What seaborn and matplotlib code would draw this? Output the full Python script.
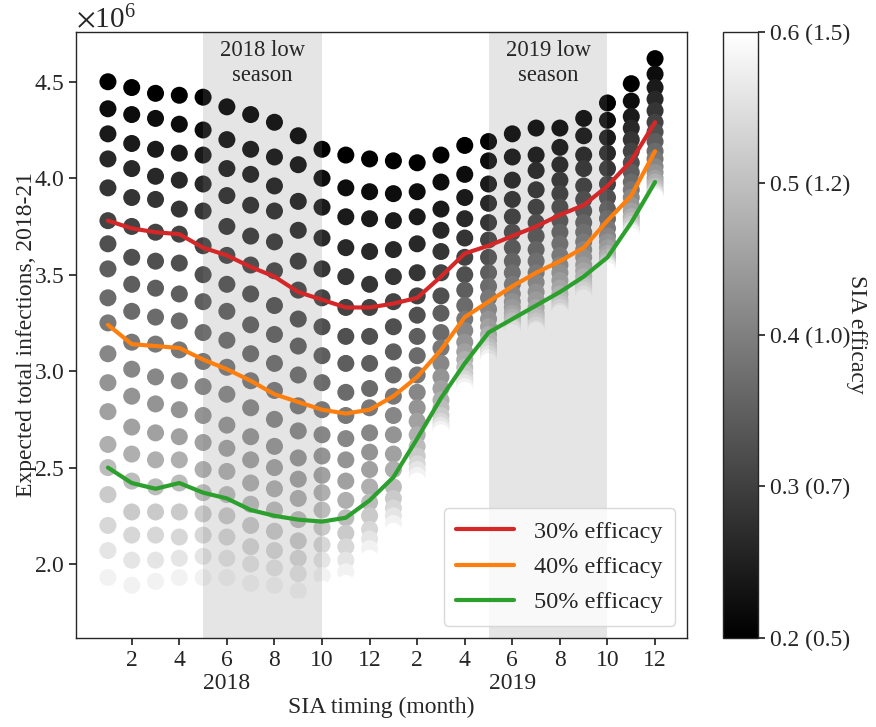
import matplotlib
matplotlib.use("Agg")
import matplotlib.pyplot as plt
import seaborn as sns
import pandas as pd
from matplotlib.colors import Normalize
from matplotlib.cm import ScalarMappable

# ---------------- data (values in millions) ----------------
months = list(range(1, 25))
tick_positions = [2, 4, 6, 8, 10, 12, 14, 16, 18, 20, 22, 24]
tick_labels = ["2", "4", "6\n2018", "8", "10", "12", "2", "4", "6\n2019", "8", "10", "12"]

efficacy_levels = [0.200, 0.221, 0.242, 0.263, 0.284, 0.305, 0.326, 0.347, 0.368, 0.389,
                   0.411, 0.432, 0.453, 0.474, 0.495, 0.516, 0.537, 0.558, 0.579, 0.600]

m01 = [4.50, 4.36, 4.23, 4.10, 3.95, 3.78, 3.66, 3.53, 3.38, 3.25, 3.09, 2.94, 2.79, 2.62, 2.50, 2.36, 2.20, 2.07, 1.93, 1.79]
m02 = [4.47, 4.33, 4.18, 4.05, 3.90, 3.75, 3.59, 3.45, 3.31, 3.15, 3.01, 2.87, 2.71, 2.57, 2.43, 2.27, 2.15, 2.02, 1.89, 1.76]
m03 = [4.44, 4.31, 4.15, 4.01, 3.89, 3.72, 3.57, 3.43, 3.28, 3.14, 2.97, 2.83, 2.68, 2.54, 2.40, 2.27, 2.15, 2.02, 1.91, 1.78]
m04 = [4.43, 4.28, 4.13, 3.99, 3.84, 3.71, 3.56, 3.40, 3.26, 3.11, 2.95, 2.80, 2.66, 2.54, 2.42, 2.27, 2.14, 2.03, 1.93, 1.82]
m05 = [4.42, 4.25, 4.12, 3.97, 3.83, 3.65, 3.50, 3.36, 3.20, 3.05, 2.92, 2.77, 2.63, 2.49, 2.37, 2.26, 2.15, 2.04, 1.93, 1.82]
m06 = [4.37, 4.20, 4.05, 3.91, 3.75, 3.60, 3.45, 3.31, 3.16, 3.02, 2.88, 2.72, 2.60, 2.48, 2.36, 2.25, 2.14, 2.03, 1.93, 1.83]
m07 = [4.33, 4.15, 4.02, 3.86, 3.70, 3.55, 3.40, 3.24, 3.09, 2.95, 2.81, 2.66, 2.54, 2.42, 2.31, 2.20, 2.09, 2.00, 1.90, 1.81]
m08 = [4.29, 4.11, 3.96, 3.83, 3.67, 3.52, 3.34, 3.19, 3.04, 2.90, 2.75, 2.61, 2.50, 2.39, 2.28, 2.17, 2.07, 1.98, 1.89, 1.80]
m09 = [4.22, 4.07, 3.88, 3.73, 3.57, 3.42, 3.27, 3.13, 2.98, 2.82, 2.69, 2.55, 2.44, 2.34, 2.23, 2.12, 2.03, 1.95, 1.86, 1.78]
m10 = [4.15, 4.00, 3.85, 3.69, 3.53, 3.38, 3.23, 3.08, 2.94, 2.80, 2.67, 2.56, 2.46, 2.37, 2.28, 2.19, 2.10, 2.02, 1.94, 1.87]
m11 = [4.12, 3.95, 3.80, 3.64, 3.49, 3.33, 3.18, 3.04, 2.89, 2.77, 2.65, 2.54, 2.43, 2.33, 2.24, 2.16, 2.09, 2.02, 1.96, 1.90]
m12 = [4.10, 3.93, 3.79, 3.62, 3.45, 3.33, 3.18, 3.04, 2.91, 2.81, 2.68, 2.58, 2.49, 2.40, 2.32, 2.25, 2.18, 2.13, 2.08, 2.03]
m13 = [4.09, 3.92, 3.78, 3.63, 3.49, 3.36, 3.23, 3.10, 2.98, 2.87, 2.77, 2.67, 2.57, 2.49, 2.40, 2.34, 2.29, 2.25, 2.21, 2.17]
m14 = [4.08, 3.93, 3.80, 3.66, 3.51, 3.39, 3.29, 3.18, 3.08, 2.98, 2.89, 2.81, 2.74, 2.67, 2.61, 2.56, 2.52, 2.49, 2.46, 2.43]
m15 = [4.12, 3.98, 3.84, 3.73, 3.62, 3.51, 3.39, 3.30, 3.20, 3.12, 3.04, 2.97, 2.91, 2.85, 2.81, 2.77, 2.74, 2.72, 2.70, 2.68]
m16 = [4.17, 4.02, 3.90, 3.79, 3.69, 3.59, 3.50, 3.42, 3.34, 3.27, 3.21, 3.15, 3.10, 3.06, 3.02, 2.99, 2.96, 2.94, 2.92, 2.90]
m17 = [4.19, 4.09, 3.97, 3.87, 3.77, 3.68, 3.59, 3.51, 3.44, 3.38, 3.32, 3.27, 3.23, 3.19, 3.16, 3.13, 3.11, 3.09, 3.07, 3.05]
m18 = [4.23, 4.11, 3.99, 3.89, 3.80, 3.72, 3.64, 3.57, 3.51, 3.45, 3.40, 3.36, 3.33, 3.30, 3.28, 3.26, 3.24, 3.23, 3.22, 3.20]
m19 = [4.26, 4.12, 4.04, 3.94, 3.85, 3.77, 3.70, 3.63, 3.57, 3.51, 3.46, 3.41, 3.37, 3.33, 3.30, 3.28, 3.26, 3.24, 3.22, 3.21]
m20 = [4.26, 4.16, 4.07, 3.99, 3.92, 3.85, 3.78, 3.72, 3.66, 3.60, 3.55, 3.51, 3.47, 3.43, 3.40, 3.37, 3.35, 3.33, 3.31, 3.30]
m21 = [4.31, 4.22, 4.12, 4.05, 3.96, 3.89, 3.83, 3.77, 3.72, 3.67, 3.63, 3.59, 3.55, 3.52, 3.49, 3.46, 3.44, 3.42, 3.40, 3.38]
m22 = [4.39, 4.30, 4.21, 4.13, 4.05, 3.97, 3.90, 3.84, 3.79, 3.74, 3.70, 3.67, 3.64, 3.61, 3.59, 3.57, 3.56, 3.55, 3.54, 3.52]
m23 = [4.49, 4.40, 4.32, 4.26, 4.20, 4.14, 4.08, 4.03, 3.98, 3.94, 3.90, 3.86, 3.83, 3.80, 3.78, 3.76, 3.74, 3.73, 3.72, 3.70]
m24 = [4.62, 4.54, 4.47, 4.41, 4.35, 4.29, 4.24, 4.19, 4.14, 4.10, 4.06, 4.03, 4.00, 3.98, 3.96, 3.94, 3.93, 3.92, 3.91, 3.90]

eff30 = [3.78, 3.74, 3.72, 3.71, 3.64, 3.60, 3.54, 3.49, 3.41, 3.37, 3.33, 3.33,
         3.35, 3.38, 3.49, 3.61, 3.65, 3.70, 3.75, 3.81, 3.86, 3.96, 4.09, 4.29]
eff40 = [3.24, 3.14, 3.13, 3.12, 3.06, 3.01, 2.95, 2.88, 2.84, 2.80, 2.78, 2.80,
         2.87, 2.97, 3.11, 3.28, 3.36, 3.44, 3.51, 3.57, 3.64, 3.78, 3.91, 4.14]
eff50 = [2.50, 2.42, 2.39, 2.42, 2.37, 2.34, 2.28, 2.25, 2.23, 2.22, 2.24, 2.33,
         2.45, 2.65, 2.86, 3.04, 3.20, 3.27, 3.34, 3.41, 3.49, 3.59, 3.77, 3.98]

line_labels = ["30% efficacy", "40% efficacy", "50% efficacy"]
line_colors = ["#d62728", "#ff7f0e", "#2ca02c"]
cbar_ticks = [0.2, 0.3, 0.4, 0.5, 0.6]
cbar_labels = ["0.2 (0.5)", "0.3 (0.7)", "0.4 (1.0)", "0.5 (1.2)", "0.6 (1.5)"]

# ---------------- build tables ----------------
month_series = [m01, m02, m03, m04, m05, m06, m07, m08, m09, m10, m11, m12,
                m13, m14, m15, m16, m17, m18, m19, m20, m21, m22, m23, m24]
rows = []
for li, eff in enumerate(efficacy_levels):
    for mi, month in enumerate(months):
        rows.append({"month": month, "infections": month_series[mi][li] * 1e6, "efficacy": eff})
dots = pd.DataFrame(rows)

# ---------------- style ----------------
sns.set_theme(style="ticks")
plt.rcParams["font.family"] = ["Liberation Serif", "DejaVu Serif"]
plt.rcParams["mathtext.fontset"] = "stix"
plt.rcParams["axes.linewidth"] = 1.0
plt.rcParams["xtick.major.size"] = 5
plt.rcParams["ytick.major.size"] = 5
FS = 17

fig = plt.figure(figsize=(8.76, 7.27), dpi=100)
ax = fig.add_axes([0.0871, 0.1228, 0.6968, 0.8332])
cax = fig.add_axes([0.8253, 0.1228, 0.0400, 0.8332])

sns.scatterplot(data=dots, x="month", y="infections", hue="efficacy",
                palette="gray", hue_norm=(0.2, 0.6), s=150, linewidth=0,
                edgecolor="none", legend=False, ax=ax, zorder=1)

ax.axvspan(5, 10, color="gray", alpha=0.2, lw=0, zorder=1.5)
ax.axvspan(17, 22, color="gray", alpha=0.2, lw=0, zorder=1.5)

for vals, lab, col in zip([eff30, eff40, eff50], line_labels, line_colors):
    sns.lineplot(x=months, y=[v * 1e6 for v in vals], color=col, label=lab,
                 linewidth=3, ax=ax, zorder=3)

ax.text(7.5, 4.597e6, "2018 low\nseason", ha="center", va="center", fontsize=16.3,
        linespacing=1.3)
ax.text(19.5, 4.597e6, "2019 low\nseason", ha="center", va="center", fontsize=16.3,
        linespacing=1.3)

ax.set_xlim(-0.33, 25.33)
ax.set_ylim(1.618e6, 4.758e6)
ax.set_xticks(tick_positions)
ax.set_xticklabels(tick_labels, fontsize=FS, linespacing=1.15)
ax.set_yticks([2.0e6, 2.5e6, 3.0e6, 3.5e6, 4.0e6, 4.5e6])
ax.ticklabel_format(axis="y", style="sci", scilimits=(6, 6), useMathText=True)
ax.tick_params(axis="both", labelsize=FS)
ax.set_xlabel("SIA timing (month)", fontsize=FS, labelpad=2)
ax.set_ylabel("Expected total infections, 2018-21", fontsize=FS, labelpad=-2)
ax.yaxis.get_offset_text().set_fontsize(21)

leg = ax.legend(loc="lower right", fontsize=17.5, frameon=True, labelspacing=0.55,
                handlelength=2.4, handletextpad=0.8, borderpad=0.5)
leg.get_frame().set_edgecolor("#d0d0d0")

sm = ScalarMappable(norm=Normalize(0.2, 0.6), cmap="gray")
cbar = fig.colorbar(sm, cax=cax, ticks=cbar_ticks)
cbar.ax.set_yticklabels(cbar_labels, fontsize=FS)
cbar.set_label("SIA efficacy", rotation=270, fontsize=FS, labelpad=12)
cbar.outline.set_linewidth(1.0)

fig.savefig("out.png", dpi=100)
